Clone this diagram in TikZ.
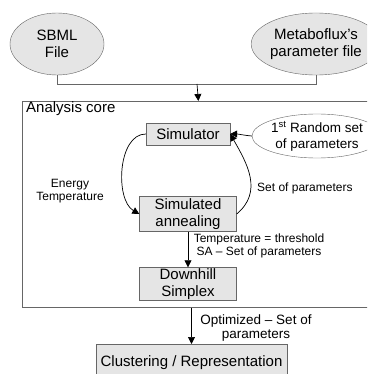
\documentclass[tikz,border=0pt]{standalone}
\usepackage{fontspec}
\setmainfont{Liberation Sans}
\usetikzlibrary{shapes.geometric,arrows.meta}
\begin{document}
\begin{tikzpicture}[x=1pt,y=-1pt,
  lbl/.style={font=\fontsize{15}{17}\selectfont, align=center, inner sep=0pt},
  small/.style={font=\fontsize{12}{13}\selectfont, align=center, inner sep=0pt},
  src/.style={ellipse, draw=black!60, fill=gray!20, lbl},
  boxn/.style={rectangle, draw=black!60, fill=gray!20, lbl},
  conn/.style={draw=black!60, line width=0.8pt},
  arr/.style={draw=black, line width=0.7pt, -{Triangle[length=7pt,width=7pt]}},
]
\useasboundingbox (0,0) rectangle (367,374);
\clip (0,0) rectangle (367,374);
\fill[white] (0,0) rectangle (367,374);

% sources
\node[src, minimum width=94, minimum height=62] (sbml) at (57,44) {SBML\\File};
\node[src, minimum width=108, minimum height=62] (meta) at (316,44) {Metaboflux's\\parameter file};
\coordinate (j) at (197,84);

% analysis core frame
\node[draw=black!60, line width=0.8pt, minimum width=352, minimum height=206, anchor=north west, inner sep=0pt] (core) at (22,101) {};
\node[lbl, anchor=west] (title) at (26,109) {Analysis core};

% inner nodes
\node[boxn, minimum width=84, minimum height=22] (sim) at (188,134) {Simulator};
\node[ellipse, draw=black!60, fill=white, lbl, font=\fontsize{13.5}{15.5}\selectfont, minimum width=108, minimum height=44, inner sep=0pt] (rand) at (317,136) {1\textsuperscript{st} Random set\\of parameters};
\node[boxn, minimum width=97, minimum height=35] (sa) at (188,214) {Simulated\\annealing};
\node[boxn, minimum width=97, minimum height=33] (dh) at (188,284) {Downhill\\Simplex};
\node[boxn, minimum width=191, minimum height=36, anchor=north] (clus) at (191.5,344) {Clustering / Representation};

% labels
\node[small] (et) at (70,191) {Energy\\Temperature};
\node[small, anchor=west] (sp) at (257,188) {Set of parameters};
\node[small] (tt) at (259,246) {Temperature = threshold\\SA -- Set of parameters};
\node[small, font=\fontsize{13.5}{14.5}\selectfont] (op) at (256,328) {Optimized -- Set of\\parameters};

% connectors
\draw[conn] (sbml.south) -- (sbml.south |- j) -- (meta.south |- j) -- (meta.south);
\draw[arr] (j) -- (core.north);
\draw[arr] (rand.west) to[out=175,in=0] (sim.east);
\draw[arr] (sim.west) to[out=180,in=150,looseness=0.9] (sa.west);
\draw[arr] (sa.east) to[out=40,in=-60,looseness=1.1] (sim.east);
\draw[arr] (sa.south) -- (dh.north);
\draw[arr] (clus.north |- core.south) -- (clus.north);
\end{tikzpicture}
\end{document}
